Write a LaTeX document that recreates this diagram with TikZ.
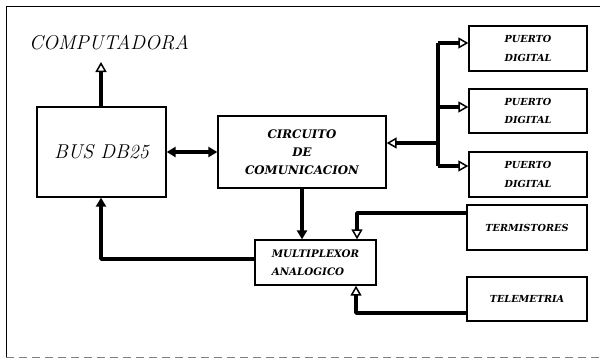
\documentclass[tikz,border=0pt]{standalone}
\usepackage{fontspec}
\newfontfamily\boxfont{DejaVu Serif}
\usetikzlibrary{arrows.meta}
\begin{document}
\begin{tikzpicture}[x=1pt,y=-1pt,
  box/.style={draw, line width=1.3pt, inner sep=0pt, align=center,
    font=\fontsize{9.7}{18.5}\boxfont\bfseries\itshape},
  conn/.style={line width=3.5pt},
  oa/.style={-{Triangle[open,line width=1.5pt,length=10pt,width=11pt]}},
  fa/.style={-{Triangle[length=9pt,width=10pt]}},
  fda/.style={{Triangle[length=9pt,width=10pt]}-{Triangle[length=9pt,width=10pt]}}]
\useasboundingbox (0,0) rectangle (600,359);
% frame
\draw[line width=1pt] (600,6) -- (6,6) -- (6,358);
\draw[gray, line width=1pt, dash pattern=on 8pt off 5pt] (6,357.5) -- (600,357.5);
% boxes
\node[box, minimum width=129pt, minimum height=90pt, font=\fontsize{20}{22}\selectfont\itshape] (bus) at (101.5,152) {BUS DB25};
\node[box, minimum width=168pt, minimum height=72pt, font=\fontsize{11.8}{18}\boxfont\bfseries\itshape] (circ) at (302,152) {CIRCUITO\\DE\\COMUNICACION};
\node[box, minimum width=118pt, minimum height=45pt] (p1) at (528,48.5) {PUERTO\\DIGITAL};
\node[box, minimum width=118pt, minimum height=44pt] (p2) at (528,111) {PUERTO\\DIGITAL};
\node[box, minimum width=118pt, minimum height=45pt] (p3) at (528,174.5) {PUERTO\\DIGITAL};
\node[box, minimum width=121pt, minimum height=45pt, align=left, font=\fontsize{10.3}{18}\boxfont\bfseries\itshape] (mux) at (315.5,262.5) {MULTIPLEXOR\\ANALOGICO};
\node[box, minimum width=120pt, minimum height=45pt] (term) at (527,227.5) {TERMISTORES};
\node[box, minimum width=120pt, minimum height=44pt] (tele) at (527,299) {TELEMETRIA};
\node[font=\fontsize{20}{24}\selectfont\itshape, inner sep=0pt] (comp) at (109,43) {COMPUTADORA};
% coordinates
\coordinate (ce) at (101,62);
\coordinate (ta) at (438,43);
\coordinate (tb) at (438,107);
\coordinate (tc) at (438,166);
\coordinate (tm) at (438,143);
\coordinate (kt) at (357,213);
\coordinate (kl) at (356,313);
\coordinate (kb) at (101,259);
% connectors
\draw[conn, oa] (bus.north -| ce) -- (ce);
\draw[conn, fda] (bus) -- (circ);
\draw[conn, line join=round] (ta) -- (tc);
\draw[conn, oa] (ta) -- (ta -| p1.west);
\draw[conn, oa] (tb) -- (tb -| p2.west);
\draw[conn, oa] (tc) -- (tc -| p3.west);
\draw[conn, oa] (tm) -- (tm -| circ.east);
\draw[conn, fa] (circ.south) -- (circ.south |- mux.north);
\draw[conn, oa, line join=round] (kt -| term.west) -- (kt) -- (kt |- mux.north);
\draw[conn, oa, line join=round] (kl -| tele.west) -- (kl) -- (kl |- mux.south);
\draw[conn, fa, line join=round] (kb -| mux.west) -- (kb) -- (kb |- bus.south);
\end{tikzpicture}
\end{document}
